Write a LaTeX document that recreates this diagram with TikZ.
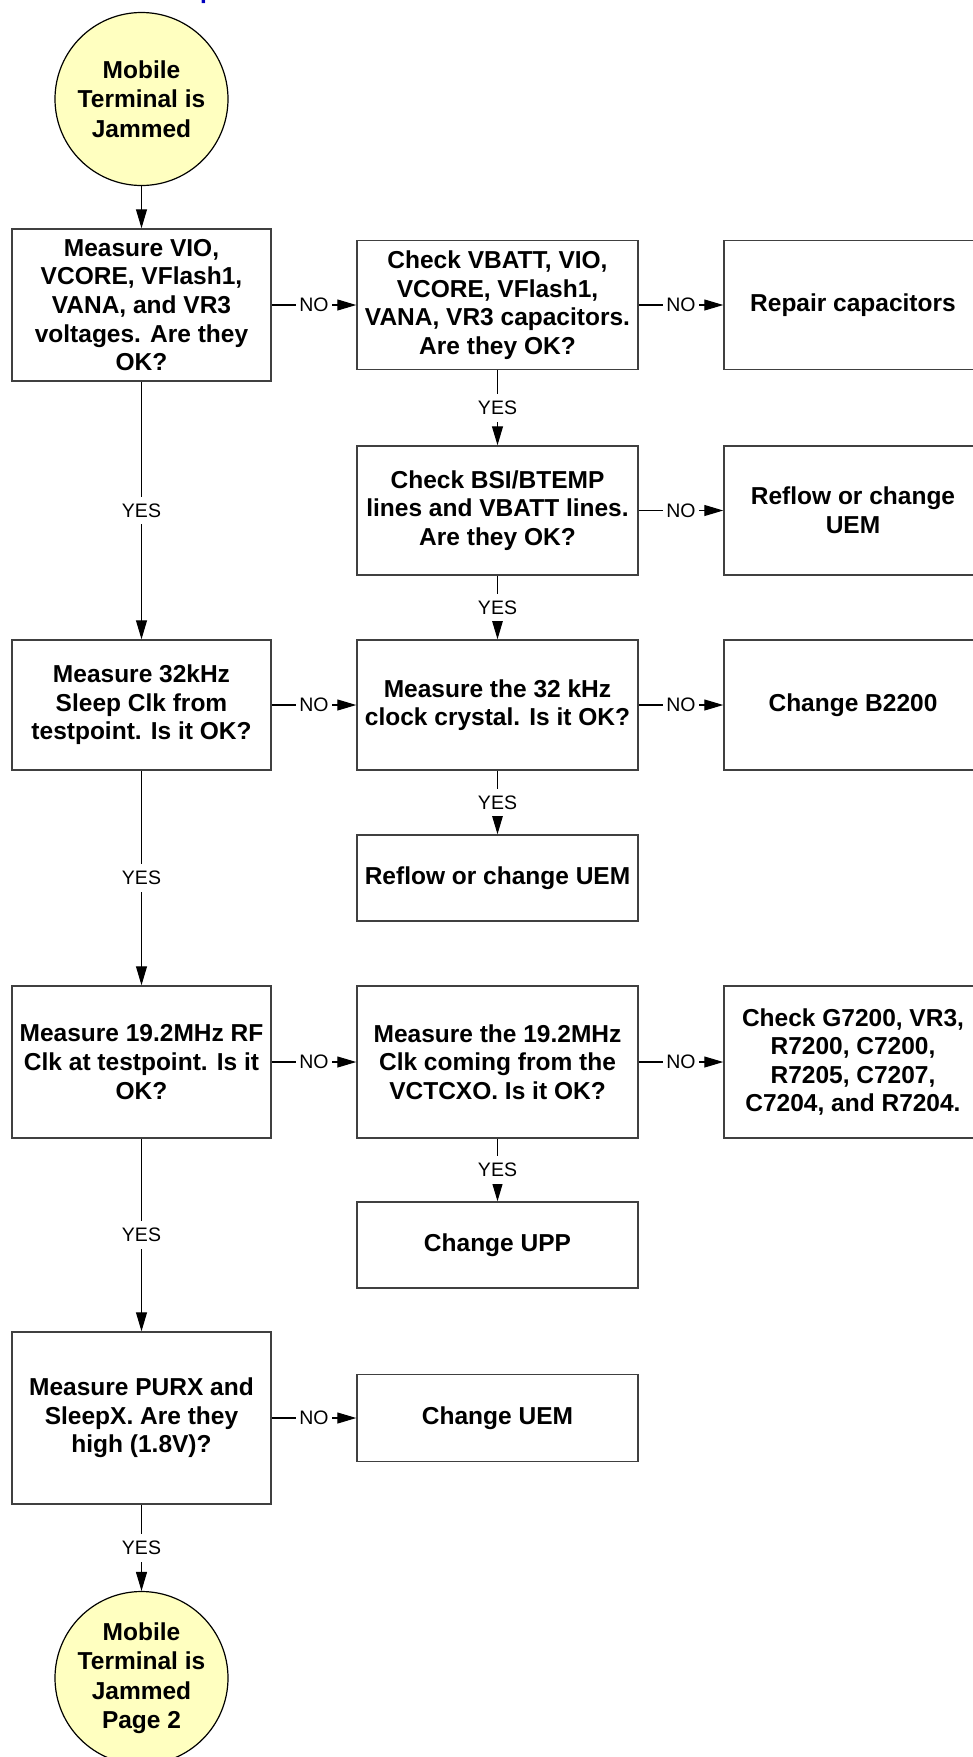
\documentclass[tikz,border=0pt]{standalone}
\usepackage{fontspec}
\setmainfont{Liberation Sans}
\usetikzlibrary{arrows.meta}
\definecolor{cyel}{RGB}{255,255,192}
\definecolor{cbord}{RGB}{64,64,64}
\definecolor{cblue}{RGB}{0,0,190}
\begin{document}
\begin{tikzpicture}[x=1pt,y=-1pt,
  box/.style={draw=cbord, line width=1.5pt, align=center, inner sep=2pt,
    font=\fontsize{24.5}{28.6}\selectfont\bfseries},
  colA/.style={box, minimum width=259pt},
  colB/.style={box, minimum width=281pt},
  colC/.style={box, minimum width=258pt},
  circ/.style={circle, draw=black, line width=1.2pt, fill=cyel, minimum size=173pt,
    inner sep=0pt, align=center, font=\fontsize{24.5}{29.5}\selectfont\bfseries},
  arr/.style={draw=black, line width=1.1pt, -{Triangle[length=19pt,width=11pt]}},
  lab/.style={fill=white, inner xsep=3pt, inner ysep=7pt,
    font=\fontsize{19.5}{21}\selectfont}
]
\useasboundingbox (0,0) rectangle (973,1757);

\node[anchor=base west, text=cblue, inner sep=0pt,
  font=\fontsize{24.5}{28}\selectfont\bfseries] (frag) at (200,-2) {p};

\node[circ] (start) at (141.5,99) {Mobile\\Terminal is\\Jammed};

\node[colA, minimum height=152pt] (b1) at (141.5,305) {Measure VIO,\\VCORE, VFlash1,\\VANA, and VR3\\voltages. Are they\\OK?};
\node[colB, minimum height=129pt] (b2) at (497.5,305) {Check VBATT, VIO,\\VCORE, VFlash1,\\VANA, VR3 capacitors.\\Are they OK?};
\node[colC, minimum height=129pt] (b3) at (853,305) {Repair capacitors};

\node[colB, minimum height=129pt] (b4) at (497.5,510.5) {Check BSI/BTEMP\\lines and VBATT lines.\\Are they OK?};
\node[colC, minimum height=129pt] (b5) at (853,510.5) {Reflow or change\\UEM};

\node[colA, minimum height=130pt] (b6) at (141.5,705) {Measure 32kHz\\Sleep Clk from\\testpoint. Is it OK?};
\node[colB, minimum height=130pt] (b7) at (497.5,705) {Measure the 32 kHz\\clock crystal. Is it OK?};
\node[colC, minimum height=130pt] (b8) at (853,705) {Change B2200};

\node[colB, minimum height=86pt] (b9) at (497.5,878) {Reflow or change UEM};

\node[colA, minimum height=152pt] (b10) at (141.5,1062) {Measure 19.2MHz RF\\Clk at testpoint. Is it\\OK?};
\node[colB, minimum height=152pt] (b11) at (497.5,1062) {Measure the 19.2MHz\\Clk coming from the\\VCTCXO. Is it OK?};
\node[colC, minimum height=152pt] (b12) at (853,1062) {Check G7200, VR3,\\R7200, C7200,\\R7205, C7207,\\C7204, and R7204.};

\node[colB, minimum height=86pt] (b13) at (497.5,1245) {Change UPP};

\node[colA, minimum height=172pt] (b14) at (141.5,1418) {Measure PURX and\\SleepX. Are they\\high (1.8V)?};
\node[colB, minimum height=87pt] (b15) at (497.5,1418) {Change UEM};

\node[circ] (end) at (141.5,1678) {Mobile\\Terminal is\\Jammed\\Page 2};

% left column
\draw[arr] (start) -- (b1);
\draw[arr] (b1) -- node[lab] {YES} (b6);
\draw[arr] (b6) -- node[lab] {YES} (b10);
\draw[arr] (b10) -- node[lab] {YES} (b14);
\draw[arr] (b14) -- node[lab] {YES} (end);
% middle column
\draw[arr] (b2) -- node[lab] {YES} (b4);
\draw[arr] (b4) -- node[lab] {YES} (b7);
\draw[arr] (b7) -- node[lab] {YES} (b9);
\draw[arr] (b11) -- node[lab] {YES} (b13);
% horizontal
\draw[arr] (b1) -- node[lab] {NO} (b2);
\draw[arr] (b2) -- node[lab] {NO} (b3);
\draw[arr] (b4) -- node[lab] {NO} (b5);
\draw[arr] (b6) -- node[lab] {NO} (b7);
\draw[arr] (b7) -- node[lab] {NO} (b8);
\draw[arr] (b10) -- node[lab] {NO} (b11);
\draw[arr] (b11) -- node[lab] {NO} (b12);
\draw[arr] (b14) -- node[lab] {NO} (b15);
\end{tikzpicture}
\end{document}
